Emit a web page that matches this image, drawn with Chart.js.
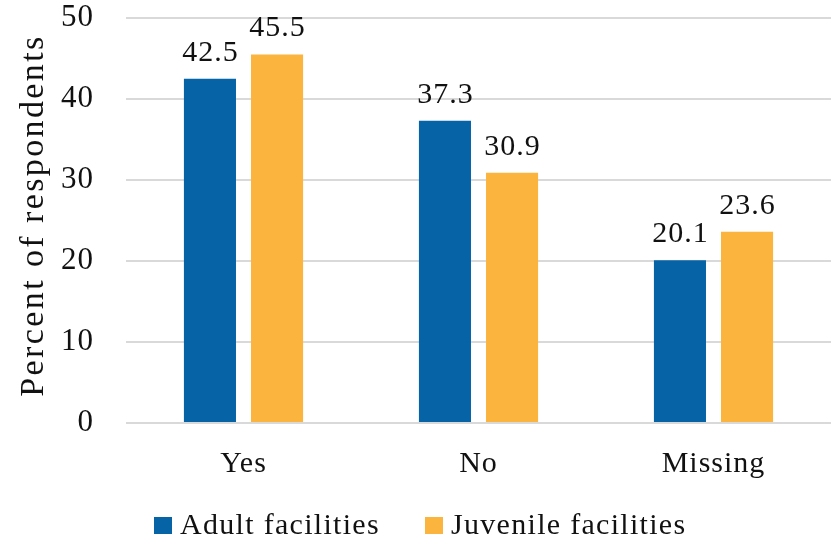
<!DOCTYPE html>
<html>
<head>
<meta charset="utf-8">
<script src="https://cdn.jsdelivr.net/npm/chart.js@4"></script>
<style>
html,body{margin:0;padding:0;background:#fff;}
#wrap{width:833px;height:538px;}
</style>
</head>
<body>
<div id="wrap"><canvas id="c" width="833" height="538"></canvas></div>
<script>
const categories = ["Yes", "No", "Missing"];
const adultValues = [42.5, 37.3, 20.1];
const juvenileValues = [45.5, 30.9, 23.6];
const seriesNames = ["Adult facilities", "Juvenile facilities"];
const seriesColors = ["#0563a6", "#fbb43e"];
const yTicks = [0, 10, 20, 30, 40, 50];
const yTitle = "Percent of respondents";

const FONT = "'Liberation Serif', 'Times New Roman', serif";
const TEXT = "#111";
const SPACING = "1px";

const spacingPlugin = {
  id: 'spacing',
  beforeUpdate(chart) { chart.ctx.letterSpacing = SPACING; },
  beforeLayout(chart) { chart.ctx.letterSpacing = SPACING; },
  beforeDraw(chart) { chart.ctx.letterSpacing = SPACING; }
};

const labelPlugin = {
  id: 'barLabels',
  afterDatasetsDraw(chart) {
    const ctx = chart.ctx;
    ctx.save();
    ctx.letterSpacing = SPACING;
    ctx.font = "30px " + FONT;
    ctx.fillStyle = TEXT;
    ctx.textAlign = "center";
    ctx.textBaseline = "alphabetic";
    chart.data.datasets.forEach((ds, i) => {
      const meta = chart.getDatasetMeta(i);
      meta.data.forEach((bar, j) => {
        ctx.fillText(ds.data[j].toFixed(1), bar.x + 0.5, bar.y - 18);
      });
    });
    ctx.restore();
  }
};

const titleLegendPlugin = {
  id: 'titleLegend',
  afterDraw(chart) {
    const ctx = chart.ctx;
    const area = chart.chartArea;
    ctx.save();
    ctx.letterSpacing = "2.4px";
    ctx.font = "34px " + FONT;
    ctx.fillStyle = TEXT;
    ctx.textAlign = "center";
    ctx.textBaseline = "alphabetic";
    ctx.translate(43, (area.top + area.bottom) / 2 - 5);
    ctx.rotate(-Math.PI / 2);
    ctx.fillText(yTitle, 0, 0);
    ctx.restore();

    ctx.save();
    ctx.letterSpacing = "1.3px";
    ctx.font = "30px " + FONT;
    ctx.textBaseline = "alphabetic";
    ctx.textAlign = "left";
    const starts = [154, 425];
    chart.data.datasets.forEach((ds, i) => {
      const x = starts[i];
      ctx.fillStyle = ds.backgroundColor;
      ctx.fillRect(x, 517, 18, 17);
      ctx.fillStyle = TEXT;
      ctx.fillText(ds.label, x + 26, 534);
    });
    ctx.restore();
  }
};

new Chart(document.getElementById('c'), {
  type: 'bar',
  data: {
    labels: categories,
    datasets: [
      { label: seriesNames[0], data: adultValues, backgroundColor: seriesColors[0] },
      { label: seriesNames[1], data: juvenileValues, backgroundColor: seriesColors[1] }
    ]
  },
  options: {
    responsive: false,
    animation: false,
    devicePixelRatio: 1,
    categoryPercentage: 0.571,
    barPercentage: 0.776,
    layout: { padding: { top: 0, right: 2, left: 0, bottom: 41 } },
    plugins: {
      legend: { display: false },
      tooltip: { enabled: false }
    },
    scales: {
      x: {
        grid: { display: false },
        border: { display: false },
        ticks: { font: { family: FONT, size: 30 }, color: TEXT, padding: 15 }
      },
      y: {
        min: 0, max: 50,
        afterBuildTicks(axis) { axis.ticks = yTicks.map(v => ({ value: v })); },
        afterFit(axis) { axis.width = 126; axis.paddingTop = 18; axis.paddingBottom = 0; },
        grid: { color: '#d9d9d9', lineWidth: 2, drawTicks: false },
        border: { display: false },
        ticks: { font: { family: FONT, size: 31 }, color: TEXT, padding: 32 }
      }
    }
  },
  plugins: [spacingPlugin, labelPlugin, titleLegendPlugin]
});
</script>
</body>
</html>
